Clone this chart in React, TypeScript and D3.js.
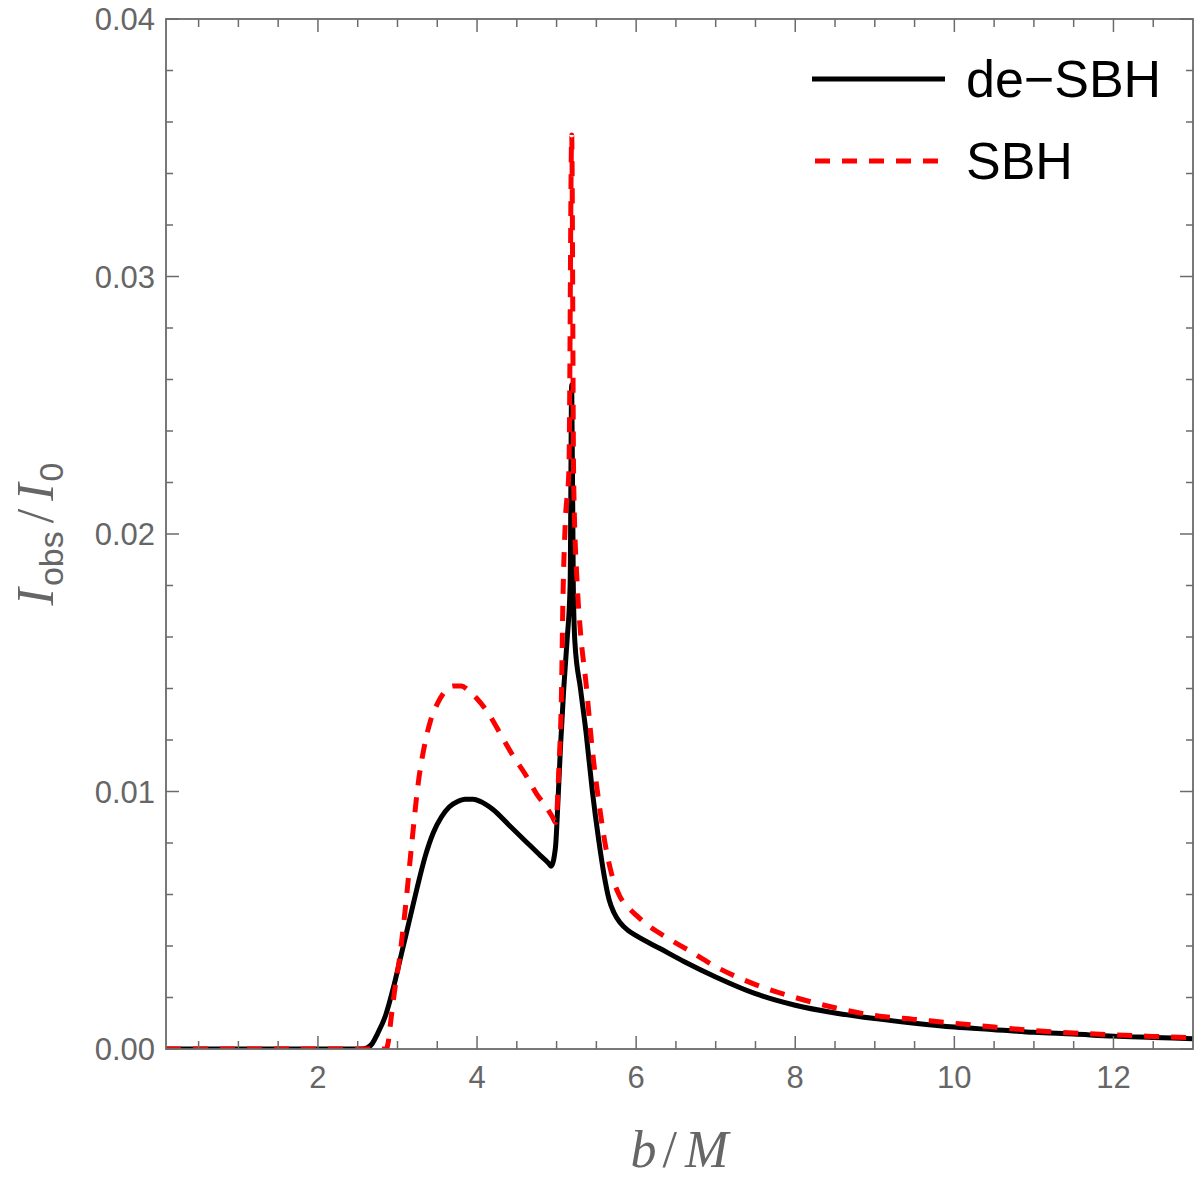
import * as d3 from "d3";

// de-SBH curve: [b/M, I_obs/I_0]
const deSBH: [number, number][] = [
  [0.09, 0], [2.55, 0], [2.62, 0.00005], [2.68, 0.0002], [2.75, 0.0006], [2.85, 0.0013],
  [2.95, 0.0024], [3.05, 0.0037], [3.15, 0.005], [3.25, 0.0063], [3.35, 0.0075],
  [3.45, 0.0084], [3.55, 0.009], [3.65, 0.0094], [3.75, 0.0096], [3.85, 0.0097],
  [3.95, 0.0097], [4.05, 0.0096], [4.2, 0.0093], [4.4, 0.0087], [4.6, 0.0081],
  [4.8, 0.0075], [4.9, 0.00721], [4.93, 0.0071], [4.985, 0.0078], [5.02, 0.0098],
  [5.05, 0.0118], [5.09, 0.014], [5.13, 0.0158], [5.17, 0.018], [5.19, 0.0258],
  [5.21, 0.018], [5.23, 0.0158], [5.3, 0.014], [5.37, 0.0123], [5.45, 0.01],
  [5.53, 0.0081], [5.6, 0.0067], [5.66, 0.0058], [5.72, 0.0053], [5.8, 0.0049],
  [5.9, 0.0046], [6.0, 0.0044], [6.3, 0.0039], [6.6, 0.0034], [7.0, 0.0028],
  [7.5, 0.00215], [8.0, 0.0017], [8.5, 0.0014], [9.0, 0.00118], [9.5, 0.001],
  [10.0, 0.00085], [10.5, 0.00075], [11.0, 0.00065], [11.5, 0.00058], [12.0, 0.0005],
  [12.5, 0.00045], [13.0, 0.0004],
];

// SBH curve
const sbh: [number, number][] = [
  [0.09, 0], [2.86, 0], [2.88, 0.0002], [2.92, 0.0012], [2.97, 0.0024], [3.02, 0.0034],
  [3.1, 0.0055], [3.18, 0.008], [3.26, 0.0103], [3.34, 0.0118], [3.42, 0.0128],
  [3.5, 0.0134], [3.6, 0.0139], [3.7, 0.0141], [3.8, 0.0141], [3.9, 0.0139],
  [4.0, 0.0136], [4.15, 0.013], [4.3, 0.0122], [4.45, 0.0114], [4.6, 0.0107],
  [4.75, 0.0099], [4.87, 0.0094], [4.95, 0.009], [4.99, 0.0088], [5.03, 0.011],
  [5.06, 0.0136], [5.08, 0.0175], [5.11, 0.0205], [5.155, 0.0225], [5.19, 0.0355],
  [5.215, 0.022], [5.26, 0.018], [5.3, 0.0162], [5.37, 0.0142], [5.45, 0.0116],
  [5.54, 0.0094], [5.62, 0.0078], [5.7, 0.0067], [5.8, 0.0059], [5.9, 0.0055],
  [6.0, 0.0052], [6.15, 0.0048], [6.4, 0.0043], [6.65, 0.00385], [7.0, 0.0032],
  [7.5, 0.0025], [8.0, 0.002], [8.5, 0.0016], [9.0, 0.0013], [9.5, 0.00115],
  [10.0, 0.001], [10.5, 0.00085], [11.0, 0.00072], [11.5, 0.00062], [12.0, 0.00055],
  [12.5, 0.00049], [13.0, 0.00044],
];

const xMajor = [2, 4, 6, 8, 10, 12];
const yMajor = [0, 0.01, 0.02, 0.03, 0.04];
const legendLabels = ["de\u2212SBH", "SBH"];

const W = 1196;
const H = 1186;
const left = 166, right = 1193, top = 19, bottom = 1049;
const axisGray = "#6b6b6b";
const labelGray = "#666";

export default function App() {
  const x = d3.scaleLinear().domain([0.09, 13]).range([left, right]);
  const y = d3.scaleLinear().domain([0, 0.04]).range([bottom, top]);

  const line = d3
    .line<[number, number]>()
    .x((d) => x(d[0]))
    .y((d) => y(d[1]))
    .curve(d3.curveMonotoneX);

  const xMinor = d3.range(0.5, 13, 0.5).filter((v) => !xMajor.some((m) => Math.abs(m - v) < 1e-9));
  const yMinor = d3.range(0.002, 0.04, 0.002).filter((v) => !yMajor.some((m) => Math.abs(m - v) < 1e-9));
  const fmt = d3.format(".2f");

  return (
    <svg width={W} height={H} style={{ position: "absolute", left: 0, top: 0 }}>
      <defs>
        <clipPath id="plot">
          <rect x={left} y={top} width={right - left} height={bottom - top} />
        </clipPath>
      </defs>

      <g clipPath="url(#plot)" fill="none" strokeLinejoin="round">
        <path d={line(deSBH) || undefined} stroke="#000" strokeWidth={5} />
        <path d={line(sbh) || undefined} stroke="#ff0000" strokeWidth={5} strokeDasharray="15,12" />
      </g>

      {/* frame */}
      <rect x={left} y={top} width={right - left} height={bottom - top} fill="none" stroke={axisGray} strokeWidth={1.8} />

      {/* ticks on all four sides */}
      <g stroke={axisGray} strokeWidth={1.5}>
        {xMajor.map((v) => (
          <g key={"xM" + v}>
            <line x1={x(v)} x2={x(v)} y1={bottom} y2={bottom - 13} />
            <line x1={x(v)} x2={x(v)} y1={top} y2={top + 13} />
          </g>
        ))}
        {xMinor.map((v) => (
          <g key={"xm" + v}>
            <line x1={x(v)} x2={x(v)} y1={bottom} y2={bottom - 8} />
            <line x1={x(v)} x2={x(v)} y1={top} y2={top + 8} />
          </g>
        ))}
        {yMajor.map((v) => (
          <g key={"yM" + v}>
            <line x1={left} x2={left + 13} y1={y(v)} y2={y(v)} />
            <line x1={right} x2={right - 13} y1={y(v)} y2={y(v)} />
          </g>
        ))}
        {yMinor.map((v) => (
          <g key={"ym" + v}>
            <line x1={left} x2={left + 7} y1={y(v)} y2={y(v)} />
            <line x1={right} x2={right - 7} y1={y(v)} y2={y(v)} />
          </g>
        ))}
      </g>

      {/* tick labels */}
      <g fill={labelGray} fontFamily="'Liberation Sans', Arial, sans-serif" fontSize={31}>
        {xMajor.map((v) => (
          <text key={"xl" + v} x={x(v)} y={1088} textAnchor="middle">
            {v}
          </text>
        ))}
        {yMajor.map((v) => (
          <text key={"yl" + v} x={155} y={y(v)} dy="0.36em" textAnchor="end">
            {fmt(v)}
          </text>
        ))}
      </g>

      {/* axis labels */}
      <text x={(left + right) / 2} y={1167} textAnchor="middle" fill={labelGray} fontFamily="'Liberation Serif', 'Times New Roman', serif" fontSize={52}>
        <tspan fontStyle="italic">b</tspan>
        <tspan dx={6}>/</tspan>
        <tspan dx={8} fontStyle="italic">M</tspan>
      </text>
      <text
        transform={`translate(53,${(top + bottom) / 2}) rotate(-90)`}
        textAnchor="middle"
        fill={labelGray}
        fontFamily="'Liberation Serif', 'Times New Roman', serif"
        fontSize={52}
      >
        <tspan fontStyle="italic">I</tspan>
        <tspan fontFamily="'Liberation Sans', Arial, sans-serif" fontSize={34} dy={10} dx={2}>obs</tspan>
        <tspan dy={-10} dx={8}>/</tspan>
        <tspan dx={8} fontStyle="italic">I</tspan>
        <tspan fontFamily="'Liberation Sans', Arial, sans-serif" fontSize={34} dy={10} dx={2}>0</tspan>
      </text>

      {/* legend */}
      <g fontFamily="'Liberation Sans', Arial, sans-serif" fontSize={52} fill="#000">
        <line x1={812} x2={945} y1={79} y2={79} stroke="#000" strokeWidth={5} />
        <text x={966} y={97}>{legendLabels[0]}</text>
        <line x1={815} x2={945} y1={161} y2={161} stroke="#ff0000" strokeWidth={5} strokeDasharray="15,12" />
        <text x={966} y={179}>{legendLabels[1]}</text>
      </g>
    </svg>
  );
}
